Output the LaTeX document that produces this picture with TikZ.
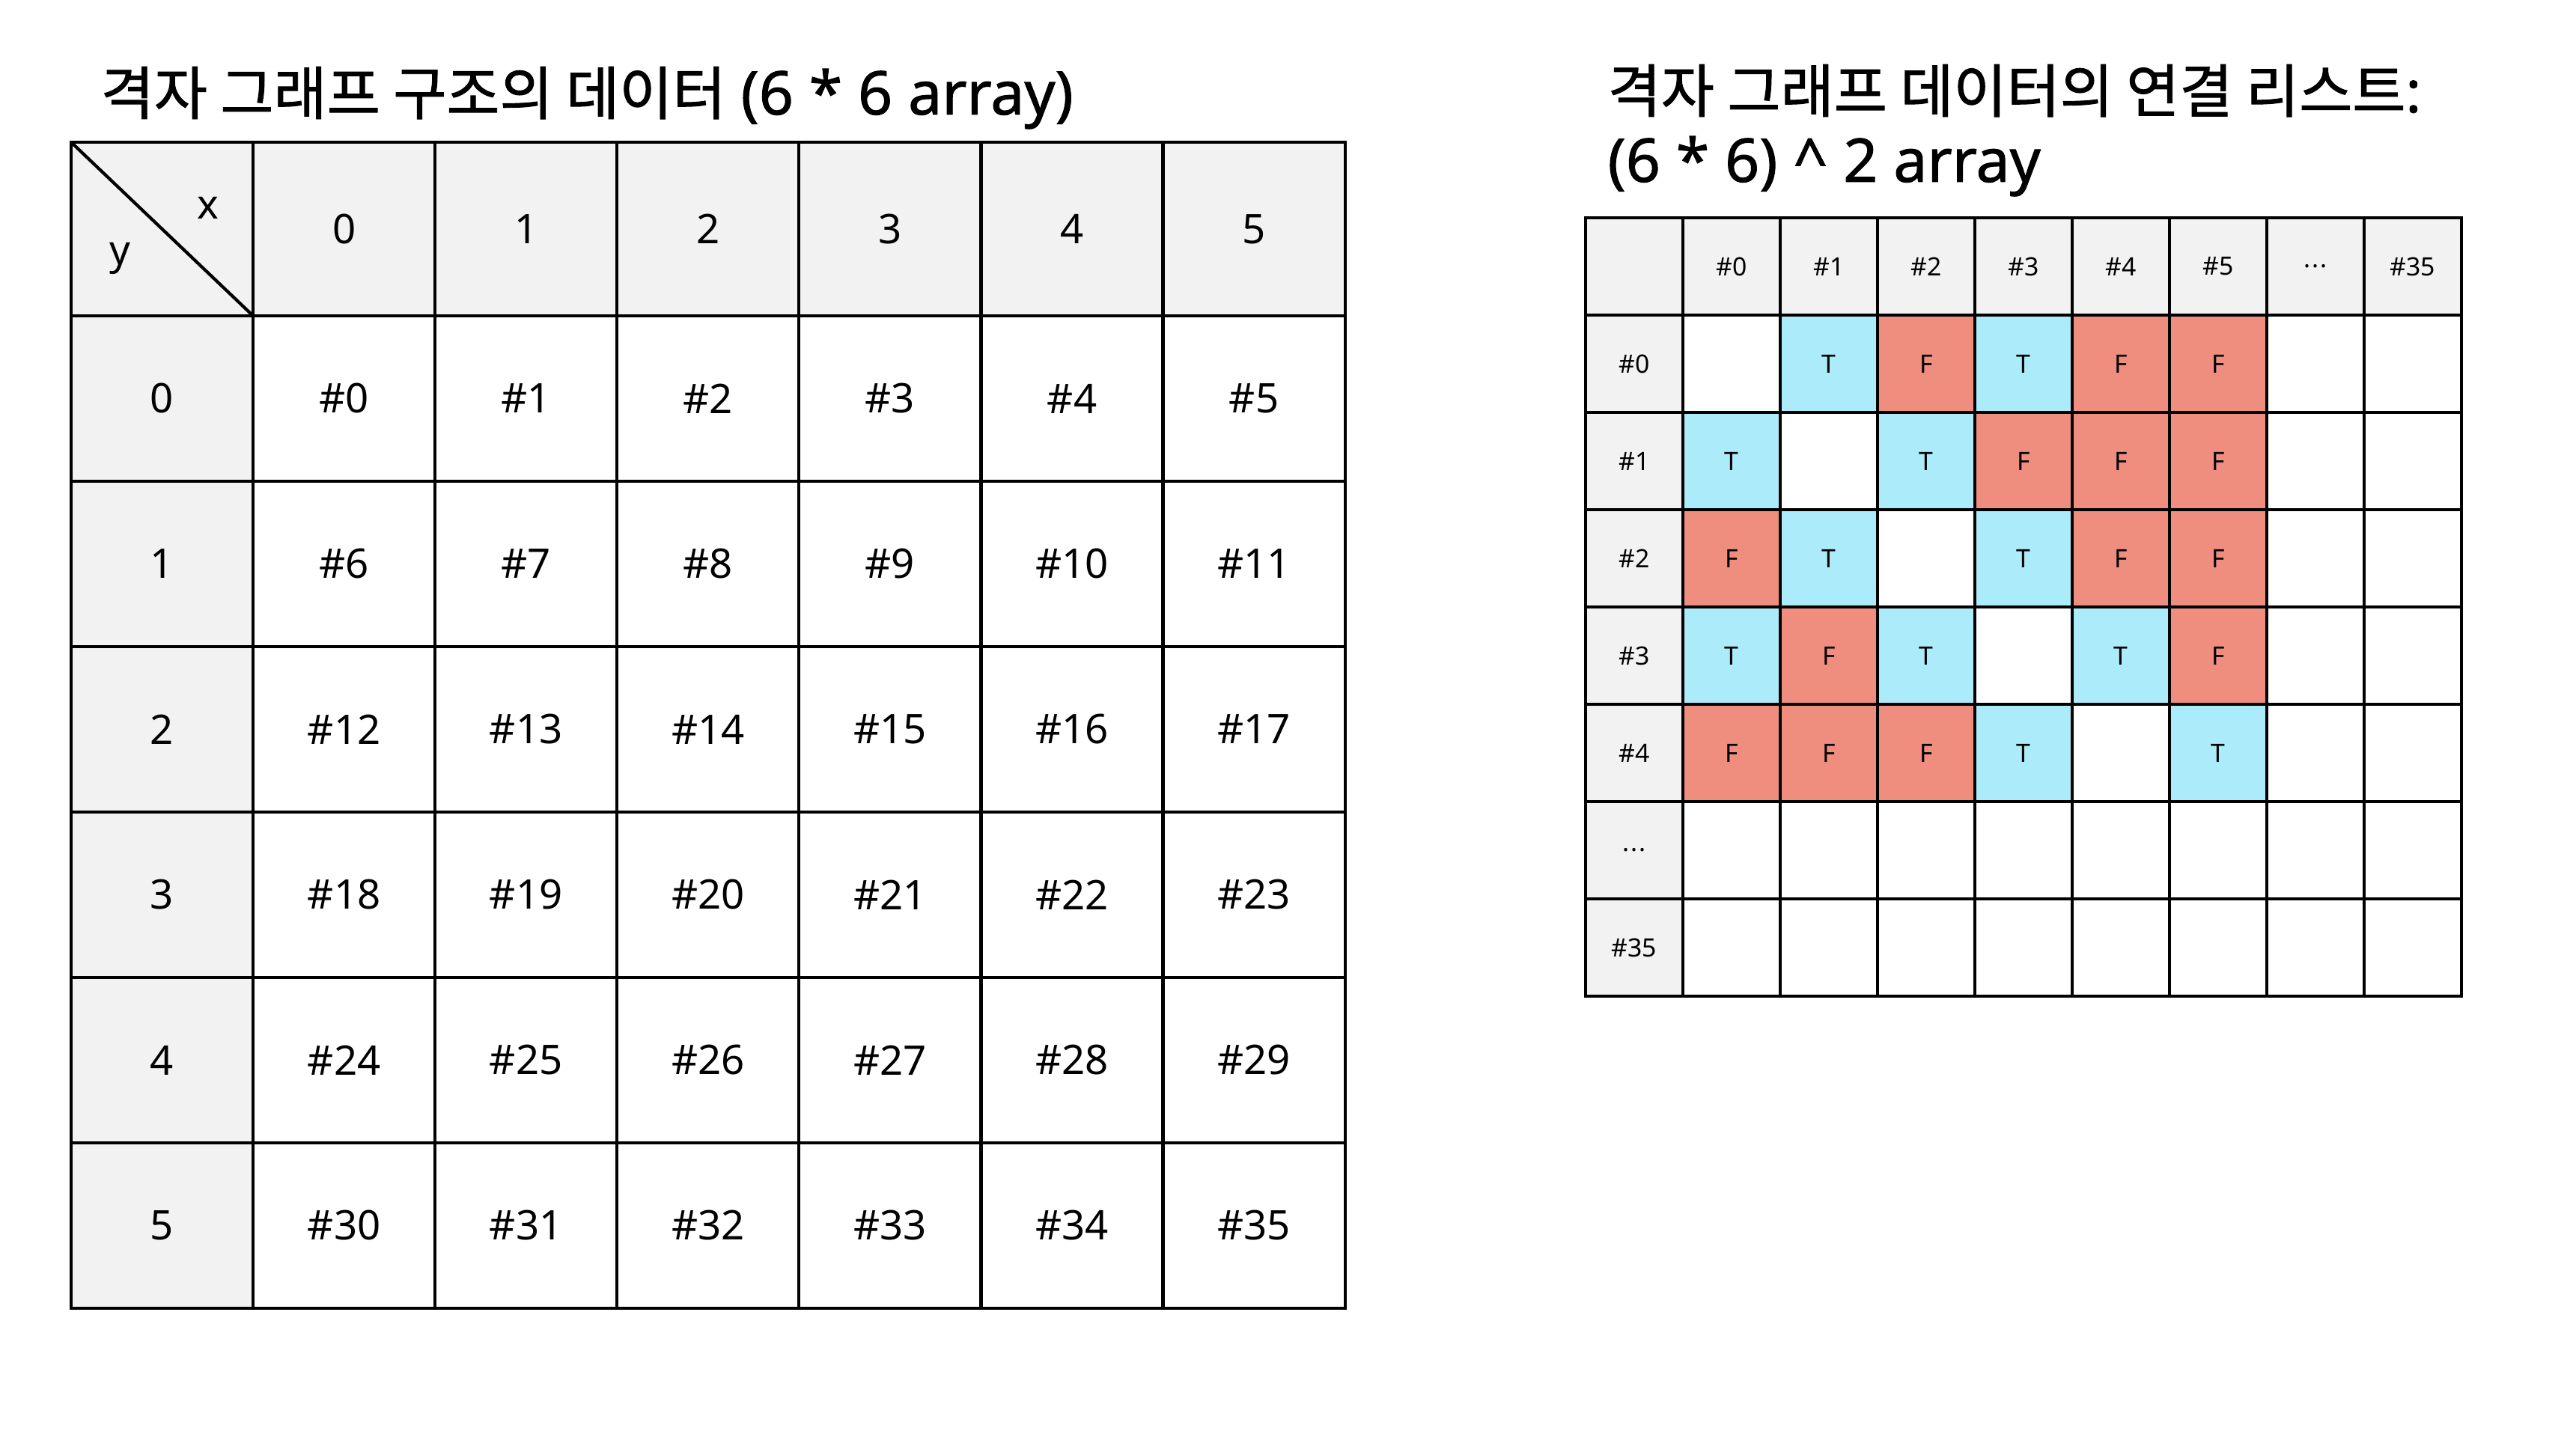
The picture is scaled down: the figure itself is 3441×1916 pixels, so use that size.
\documentclass[tikz,border=0pt]{standalone}
\usepackage{fontspec}
\setmainfont{Noto Sans}
\newfontfamily\krfont{Noto Sans CJK KR}[FakeBold=1.2]
\newfontfamily\latfont{Noto Sans}[FakeBold=1.2]
\definecolor{hgrey}{HTML}{F2F2F2}
\definecolor{tblue}{HTML}{ABEBFA}
\definecolor{fred}{HTML}{EF8E7E}
\newcommand{\ellip}{.\kern0.05em.\kern0.05em.}
\newcommand{\latbig}{\fontsize{22.9}{26}\selectfont\latfont}
\begin{document}
\begin{tikzpicture}[x=0.01cm,y=-0.01cm,
  gridline/.style={draw=black,line width=1.2pt},
  cellL/.style={gridline,minimum width=2.431cm,minimum height=2.21cm,inner sep=0pt,outer sep=0pt,
    font=\fontsize{15.5}{18}\selectfont},
  hcellL/.style={cellL,minimum height=2.32cm,fill=hgrey},
  cellR/.style={gridline,minimum width=1.3cm,minimum height=1.3cm,inner sep=0pt,outer sep=0pt,
    font=\fontsize{9.6}{11}\selectfont},
  cW/.style={cellR,fill=white,node contents={}},
  cT/.style={cellR,fill=tblue,node contents={T}},
  cF/.style={cellR,fill=fred,node contents={F}},
  titlefont/.style={anchor=base west,inner sep=0pt,font=\fontsize{22}{26}\selectfont},
  axislbl/.style={inner sep=0pt,font=\fontsize{15.5}{18}\selectfont}]
\useasboundingbox (0,0) rectangle (3441,1916);

% ---------- titles ----------
\node[titlefont] (titleL) at (134,153) {{\krfont 격자 그래프 구조의 데이터} {\latbig (6 * 6 array)}};
\node[titlefont] (titleR1) at (2147,150) {{\krfont 격자 그래프 데이터의 연결 리스트}{\latfont :}};
\node[titlefont] (titleR2) at (2147,243) {\latbig (6 * 6) \^{} 2 array};

% ---------- left table: 6 x 6 grid ----------
\node[hcellL] (L00) at ({95+243.1*0.5},{190+116}) {};
\draw[gridline] (L00.north west) -- (L00.south east);
\node[axislbl] (lblx) at (278,278) {x};
\node[axislbl] (lbly) at (160,345) {y};
\foreach \c in {1,...,6}{
  \pgfmathtruncatemacro\v{\c-1}
  \node[hcellL] (L0\c) at ({95+243.1*(\c+0.5)},{190+116}) {\v};
}
\foreach \r in {1,...,6}{
  \pgfmathtruncatemacro\v{\r-1}
  \node[cellL,fill=hgrey] (L\r0) at ({95+243.1*0.5},{422+221*(\r-0.5)}) {\v};
}
\foreach \r in {1,...,6}{
  \foreach \c in {1,...,6}{
    \pgfmathtruncatemacro\n{(\r-1)*6+\c-1}
    \node[cellL,fill=white] (L\r\c) at ({95+243.1*(\c+0.5)},{422+221*(\r-0.5)}) {\#\n};
  }
}

% ---------- right table: adjacency matrix ----------
\node[cellR,fill=hgrey] (R00) at ({2118+130*0.5},{291+130*0.5}) {};
\foreach \c/\t in {1/\#0,2/\#1,3/\#2,4/\#3,5/\#4,6/\#5,7/\ellip,8/\#35}{
  \node[cellR,fill=hgrey] (R0\c) at ({2118+130*(\c+0.5)},{291+130*0.5}) {\t};
}
\foreach \r/\t in {1/\#0,2/\#1,3/\#2,4/\#3,5/\#4,6/\ellip,7/\#35}{
  \node[cellR,fill=hgrey] (R\r0) at ({2118+130*0.5},{291+130*(\r+0.5)}) {\t};
}
\foreach \r/\row in {1/{cW,cT,cF,cT,cF,cF,cW,cW},
                     2/{cT,cW,cT,cF,cF,cF,cW,cW},
                     3/{cF,cT,cW,cT,cF,cF,cW,cW},
                     4/{cT,cF,cT,cW,cT,cF,cW,cW},
                     5/{cF,cF,cF,cT,cW,cT,cW,cW},
                     6/{cW,cW,cW,cW,cW,cW,cW,cW},
                     7/{cW,cW,cW,cW,cW,cW,cW,cW}}{
  \foreach \k [count=\c] in \row{
    \node (R\r\c) at ({2118+130*(\c+0.5)},{291+130*(\r+0.5)}) [\k];
  }
}
\end{tikzpicture}
\end{document}
